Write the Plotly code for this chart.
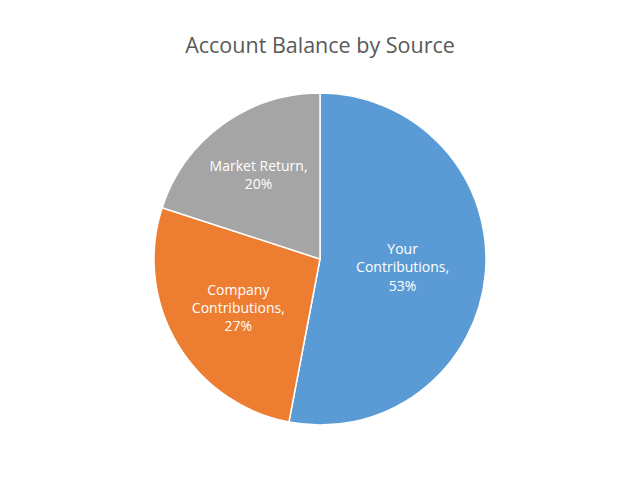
import plotly.graph_objects as go

labels = ["Your Contributions", "Company Contributions", "Market Return"]
values = [53, 27, 20]
texts = ["Your<br>Contributions,<br>53%", "Company<br>Contributions,<br>27%", "Market Return,<br>20%"]
colors = ["#5B9BD5", "#ED7D31", "#A5A5A5"]

fig = go.Figure(go.Pie(
    labels=labels,
    values=values,
    text=texts,
    textinfo="text",
    textposition="inside",
    insidetextorientation="horizontal",
    sort=False,
    direction="clockwise",
    rotation=0,
    marker=dict(colors=colors, line=dict(color="white", width=1.5)),
    textfont=dict(color="white", size=14, family="Open Sans"),
    showlegend=False,
    hoverinfo="label+percent",
))

fig.update_layout(
    width=640, height=480,
    margin=dict(l=0, r=16, t=85, b=63),
    paper_bgcolor="white",
    title=dict(text="Account Balance by Source", x=0.4875, xanchor="center", y=0.922, yanchor="middle",
               font=dict(family="Open Sans", size=21.5, color="#595959")),
)

fig.write_html("out.html")
